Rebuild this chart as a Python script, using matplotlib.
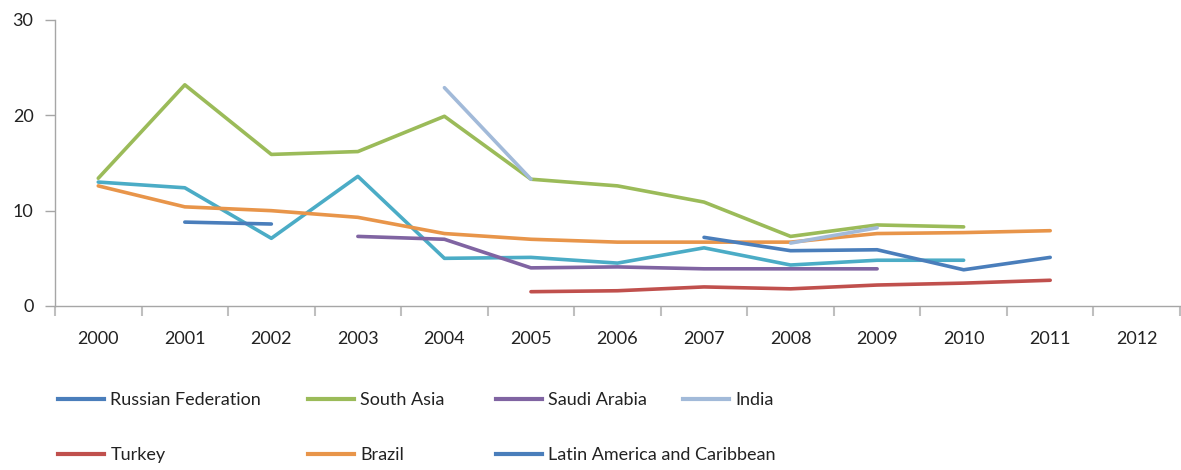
import matplotlib
matplotlib.use('Agg')
import matplotlib.pyplot as plt
import numpy as np
from matplotlib.lines import Line2D
from matplotlib.ticker import FixedLocator

plt.rcParams['font.family'] = ['Lato', 'DejaVu Sans']

years = ['2000', '2001', '2002', '2003', '2004', '2005', '2006',
         '2007', '2008', '2009', '2010', '2011', '2012']

nan = np.nan
# values (nan = no data)
russia = [nan, 8.8, 8.6, nan, nan, nan, nan, nan, nan, nan, nan, nan, nan]
south_asia = [13.4, 23.2, 15.9, 16.2, 19.9, 13.3, 12.6, 10.9, 7.3, 8.5, 8.3, nan, nan]
saudi = [nan, nan, nan, 7.3, 7.0, 4.0, 4.1, 3.9, 3.9, 3.9, nan, nan, nan]
india = [nan, nan, nan, nan, 22.9, 13.3, nan, nan, 6.6, 8.2, nan, nan, nan]
turkey = [nan, nan, nan, nan, nan, 1.5, 1.6, 2.0, 1.8, 2.2, 2.4, 2.7, nan]
brazil = [12.6, 10.4, 10.0, 9.3, 7.6, 7.0, 6.7, 6.7, 6.7, 7.6, 7.7, 7.9, nan]
latam = [nan, nan, nan, nan, nan, nan, nan, 7.2, 5.8, 5.9, 3.8, 5.1, nan]
other = [13.0, 12.4, 7.1, 13.6, 5.0, 5.1, 4.5, 6.1, 4.3, 4.8, 4.8, nan, nan]  # no legend entry

names = ['Russian Federation', 'South Asia', 'Saudi Arabia', 'India',
         'Turkey', 'Brazil', 'Latin America and Caribbean']
colors = ['#4A7EBB', '#9BBB59', '#8064A2', '#A2BAD9',
          '#C0504D', '#E8954A', '#4A7EBB']
series = [russia, south_asia, saudi, india, turkey, brazil, latam]

fig = plt.figure(figsize=(11.81, 4.70), dpi=100)
ax = fig.add_axes([55 / 1181, 1 - 306 / 470, 1 - 56 / 1181, (306 - 20) / 470])

x = np.arange(len(years))
ax.plot(x, np.array(other, dtype=float), color='#4BACC6', lw=2.6,
        solid_capstyle='round', solid_joinstyle='round')
for idx in [5, 1, 2, 4, 0, 6, 3]:
    ax.plot(x, np.array(series[idx], dtype=float), color=colors[idx], lw=2.6,
            solid_capstyle='round', solid_joinstyle='round')

ax.set_xlim(-0.5, len(years) - 0.5)
ax.set_ylim(0, 30)
ax.set_yticks([0, 10, 20, 30])
ax.set_xticks(x)
ax.set_xticklabels(years)
ax.xaxis.set_minor_locator(FixedLocator(np.arange(-0.5, len(years), 1)))

for s in ['top', 'right']:
    ax.spines[s].set_visible(False)
for s in ['left', 'bottom']:
    ax.spines[s].set_color('#A6A6A6')
    ax.spines[s].set_linewidth(1.0)

ax.tick_params(axis='x', which='major', length=0, pad=18, labelsize=13, labelcolor='#222222')
ax.tick_params(axis='x', which='minor', length=7.5, width=1.5, color='#BFBFBF')
ax.tick_params(axis='y', length=7.5, width=1.0, color='#A6A6A6', pad=8,
               labelsize=13, labelcolor='#222222')

# legend entries placed on two rows
pos = [(58, 400), (308, 400), (496, 400), (683, 400),
       (58, 455), (308, 455), (496, 455)]
for name, c, (px, py) in zip(names, colors, pos):
    h = Line2D([], [], color=c, lw=3)
    fig.legend(handles=[h], labels=[name], loc='center left',
               bbox_to_anchor=(px / 1181, 1 - py / 470), frameon=False,
               borderpad=0, borderaxespad=0, handlelength=2.55,
               handletextpad=0.35, fontsize=13, labelcolor='#222222')

plt.savefig('out.png', dpi=100)
